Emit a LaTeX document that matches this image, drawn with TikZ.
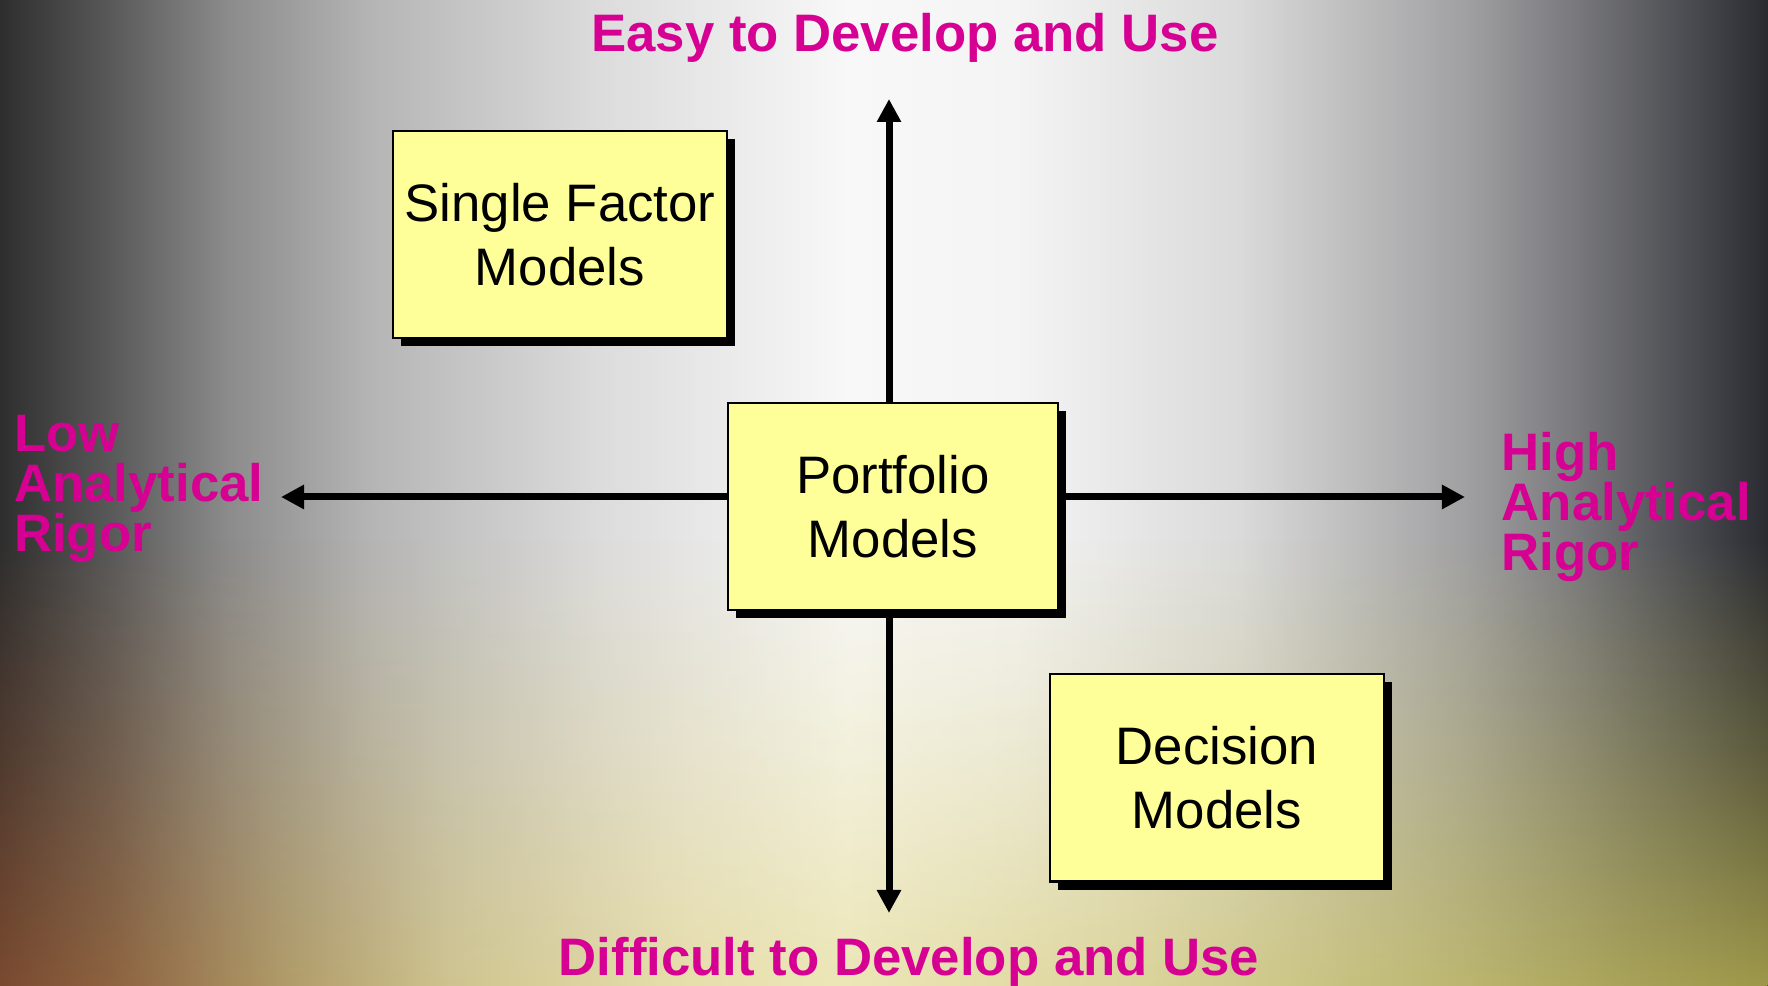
\documentclass[tikz,border=0pt]{standalone}
\usepackage{fontspec}
\setmainfont{Liberation Sans}
\usetikzlibrary{arrows.meta,shadows,fadings}

\definecolor{rigor}{RGB}{214,0,147}
\definecolor{pad}{HTML}{FFFF99}
% backdrop, left to right
\definecolor{bg0}{HTML}{2E2E2E}
\definecolor{bg1}{HTML}{5A5A5A}
\definecolor{bg2}{HTML}{8A8A8A}
\definecolor{bg3}{HTML}{B5B5B5}
\definecolor{bg4}{HTML}{DCDCDC}
\definecolor{bg5}{HTML}{F8F8F8}
\definecolor{bg6}{HTML}{F4F4F4}
\definecolor{bg7}{HTML}{DADADA}
\definecolor{bg8}{HTML}{A0A0A2}
\definecolor{bg9}{HTML}{78787C}
\definecolor{bgA}{HTML}{4A4B50}
\definecolor{bgB}{HTML}{2A2B31}
% warm tint along the bottom
\definecolor{tn0}{HTML}{7A4A30}
\definecolor{tn1}{HTML}{8E6440}
\definecolor{tn2}{HTML}{B09A68}
\definecolor{tn3}{HTML}{CFC490}
\definecolor{tn4}{HTML}{E6DDAA}
\definecolor{tn5}{HTML}{ECE6B6}
\definecolor{tn6}{HTML}{DCD59C}
\definecolor{tn7}{HTML}{C2BC78}
\definecolor{tn8}{HTML}{A8A258}
\definecolor{tn9}{HTML}{9E984A}

\pgfdeclarehorizontalshading{backdrop}{100bp}{color(0bp)=(bg0); color(25bp)=(bg0);
  color(28.2bp)=(bg1); color(31.36bp)=(bg2); color(35.52bp)=(bg3); color(41.97bp)=(bg4);
  color(49.04bp)=(bg5); color(53.7bp)=(bg6); color(60.07bp)=(bg7); color(66.46bp)=(bg8);
  color(69.63bp)=(bg9); color(72.82bp)=(bgA); color(75bp)=(bgB); color(100bp)=(bgB)}
\pgfdeclarehorizontalshading{tint}{100bp}{color(0bp)=(tn0); color(25bp)=(tn0);
  color(28.2bp)=(tn1); color(32.98bp)=(tn2); color(37.75bp)=(tn3); color(44.12bp)=(tn4);
  color(48.9bp)=(tn5); color(56.87bp)=(tn6); color(64.85bp)=(tn7); color(71.21bp)=(tn8);
  color(75bp)=(tn9); color(100bp)=(tn9)}
\tikzfading[name=tintfade, top color=transparent!100, bottom color=transparent!0,
  middle color=transparent!55]

\begin{document}
\begin{tikzpicture}[x=0.01cm, y=-0.01cm,
    model/.style={draw=black, line width=0.6pt, fill=pad, align=center,
      minimum width=3.34cm, minimum height=2.07cm, inner sep=0pt,
      font=\fontsize{15}{18.2}\selectfont,
      drop shadow={fill=black, opacity=1, shadow xshift=0.08cm, shadow yshift=-0.08cm}},
    pole/.style={font=\fontsize{15}{14.2}\selectfont\bfseries, text=rigor, inner sep=0pt},
    axis/.style={line width=0.07cm, -{Triangle[length=0.23cm, width=0.23cm]}}]

    \useasboundingbox (0,0) rectangle (1768,986);
    \shade[shading=backdrop] (0,0) rectangle (1768,986);
    \shade[shading=tint, path fading=tintfade] (0,540) rectangle (1768,986);

    \node[model] (sf) at (560,234.5) {Single Factor\\Models};
    \node[model, minimum width=3.30cm] (pf) at (893,506.5) {Portfolio\\Models};
    \node[model] (dm) at (1217,778) {Decision\\Models};

    \node[pole, anchor=base] (easy) at (905,51.5) {Easy to Develop and Use};
    \node[pole, anchor=base] (hard) at (909,976) {Difficult to Develop and Use};
    \node[pole, anchor=north west, align=left] (low) at (13.5,415) {Low\\Analytical\\Rigor};
    \node[pole, anchor=north west, align=left] (high) at (1501,432) {High\\Analytical\\Rigor};

    \coordinate (up) at (889,99);
    \coordinate (down) at (889,913);
    \coordinate (lt) at (281,497);
    \coordinate (rt) at (1465,497);

    \path [axis] (pf.north -| up) edge (up);
    \path [axis] (pf.south -| down) edge (down);
    \path [axis] (pf.west |- lt) edge (lt);
    \path [axis] (pf.east |- rt) edge (rt);
\end{tikzpicture}
\end{document}
